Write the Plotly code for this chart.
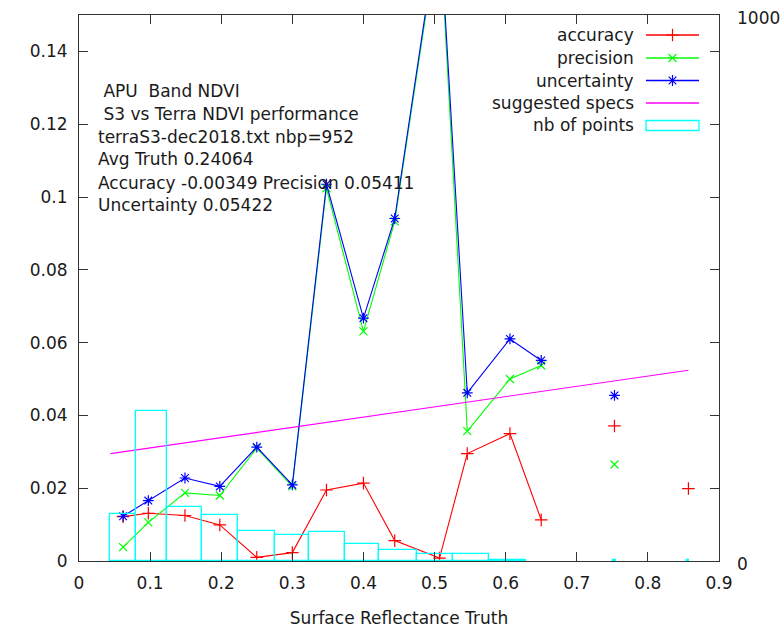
import plotly.graph_objects as go

# ---------------- data ----------------
truth_x = [0.062, 0.0975, 0.149, 0.198, 0.250, 0.300, 0.348, 0.400, 0.444,
           0.507, 0.546, 0.606, 0.650, 0.753, 0.857]
accuracy = [0.0122, 0.0131, 0.0125, 0.0099, 0.0010, 0.0023, 0.0195, 0.0214, 0.0056,
            0.0008, 0.0295, 0.0350, 0.0113, 0.0371, 0.0199]
precision = [0.0038, 0.0106, 0.0187, 0.0180, 0.0310, 0.0205, 0.1024, 0.0631, 0.0933,
             0.1750, 0.0357, 0.0500, 0.0537, 0.0265, None]
uncertainty = [0.0123, 0.0166, 0.0228, 0.0205, 0.0313, 0.0209, 0.1035, 0.0667, 0.0941,
               0.1765, 0.0462, 0.0610, 0.0551, 0.0455, None]
nb_points = [87, 275, 99, 85, 55, 48, 53, 31, 21, 12, 12, 2, None, 2, 2]
spec_x = [0.0443, 0.857]
spec_y = [0.0295, 0.0524]

stats_lines = ["\u00a0APU\u00a0\u00a0Band NDVI",
               "\u00a0S3 vs Terra NDVI performance",
               "terraS3-dec2018.txt nbp=952",
               "Avg Truth 0.24064",
               "Accuracy -0.00349 Precision 0.05411",
               "Uncertainty 0.05422"]
legend_names = ["accuracy", "precision", "uncertainty", "suggested specs", "nb of points"]
x_title = "Surface Reflectance Truth"
y_tickvals = [0, 0.02, 0.04, 0.06, 0.08, 0.1, 0.12, 0.14]
x_tickvals = [0, 0.1, 0.2, 0.3, 0.4, 0.5, 0.6, 0.7, 0.8, 0.9]
y2_tickvals = [0, 1000]

# ---------------- style ----------------
FONT = "DejaVu Sans"
FS = 17
TXT = "#1a1a1a"
AX = "#333333"
RED, GREEN, BLUE, MAG, CYAN = "#ff0000", "#00ff00", "#0000ff", "#ff00ff", "#00ffff"
N_CONN = 13  # points joined by lines; the rest are isolated
SYM = {"acc": ("cross-thin", 9), "prec": ("x-thin", 8), "unc": ("asterisk", 9)}

fig = go.Figure()

def add_series(vals, color, key):
    symbol, size = SYM[key]
    mk = dict(symbol=symbol, size=size, color=color, line=dict(color=color, width=1.2))
    fig.add_trace(go.Scatter(x=truth_x[:N_CONN], y=vals[:N_CONN], mode="lines+markers",
                             showlegend=False, line=dict(color=color, width=1.1), marker=mk))
    xs_i = [x for x, v in zip(truth_x[N_CONN:], vals[N_CONN:]) if v is not None]
    ys_i = [v for v in vals[N_CONN:] if v is not None]
    fig.add_trace(go.Scatter(x=xs_i, y=ys_i, mode="markers", showlegend=False, marker=mk))

add_series(accuracy, RED, "acc")
add_series(precision, GREEN, "prec")
add_series(uncertainty, BLUE, "unc")

fig.add_trace(go.Scatter(x=spec_x, y=spec_y, mode="lines", showlegend=False,
                         line=dict(color=MAG, width=1.1)))

# boxes span midpoint-to-midpoint between neighbours (connected part);
# isolated points get a hairline box
conn = truth_x[:N_CONN]
mids = [(a + b) / 2 for a, b in zip(conn[:-1], conn[1:])]
edges = [conn[0] - (mids[0] - conn[0])] + mids + [conn[-1] + (conn[-1] - mids[-1])]
offsets, widths = [], []
for i, x in enumerate(truth_x):
    if i < N_CONN:
        offsets.append(edges[i] - x)
        widths.append(edges[i + 1] - edges[i])
    else:
        offsets.append(-0.0015)
        widths.append(0.003)

fig.add_trace(go.Bar(x=truth_x, y=nb_points, width=widths, offset=offsets, yaxis="y2",
                     showlegend=False,
                     marker=dict(color="rgba(0,0,0,0)", line=dict(color=CYAN, width=1.3))))

# ---------------- manual gnuplot-like legend ----------------
W, H = 784, 631
L, R, T, B = 79, 65, 15, 70
PW, PH = W - L - R, H - T - B

def px(x):
    return (x - L) / PW

def py(y):
    return (T + PH - y) / PH

row_y = [35, 58, 80.5, 103, 125.5]
for name, yy in zip(legend_names, row_y):
    fig.add_annotation(x=px(636), y=py(yy), xref="paper", yref="paper",
                       text=name, showarrow=False, xanchor="right", yanchor="middle",
                       font=dict(family=FONT, size=FS, color=TXT))
for yy, col in zip(row_y[:4], [RED, GREEN, BLUE, MAG]):
    fig.add_shape(type="line", xref="paper", yref="paper",
                  x0=px(646), x1=px(699), y0=py(yy), y1=py(yy),
                  line=dict(color=col, width=1.3))
fig.add_shape(type="rect", xref="paper", yref="paper",
              x0=px(646), x1=px(699), y0=py(130.5), y1=py(120.5),
              line=dict(color=CYAN, width=1.3))
for yy, col, key in zip(row_y[:3], [RED, GREEN, BLUE], ["acc", "prec", "unc"]):
    symbol, size = SYM[key]
    fig.add_trace(go.Scatter(x=[px(672.5)], y=[py(yy)], xaxis="x3", yaxis="y3",
                             mode="markers", showlegend=False, hoverinfo="skip",
                             marker=dict(symbol=symbol, size=size, color=col,
                                         line=dict(color=col, width=1.2))))

# ---------------- stats text ----------------
stat_y = [91.5, 114, 136.5, 159.5, 182.5, 204.5]
for line, yy in zip(stats_lines, stat_y):
    fig.add_annotation(x=px(96), y=py(yy), xref="paper", yref="paper",
                       text=line, showarrow=False, xanchor="left", yanchor="middle",
                       font=dict(family=FONT, size=FS, color=TXT))

axis_common = dict(showgrid=False, zeroline=False, showline=True, linecolor=AX,
                   linewidth=1, ticks="inside", ticklen=9, tickwidth=1, tickcolor=AX,
                   mirror="ticks", automargin=False,
                   tickfont=dict(family=FONT, size=FS, color=TXT))

fig.update_layout(
    width=W, height=H,
    margin=dict(l=L, r=R, t=T, b=B, autoexpand=False),
    paper_bgcolor="white", plot_bgcolor="white",
    showlegend=False, bargap=0,
    xaxis=dict(range=[0, 0.9], tickvals=x_tickvals,
               ticktext=[f"{v:g}" for v in x_tickvals], ticklabelstandoff=7,
               title=dict(text=x_title, font=dict(family=FONT, size=FS, color=TXT),
                          standoff=19),
               **axis_common),
    yaxis=dict(range=[0, 0.15], tickvals=y_tickvals,
               ticktext=[f"{v:g}" for v in y_tickvals], ticklabelstandoff=7,
               **axis_common),
    yaxis2=dict(range=[0, 1000], overlaying="y", side="right", tickvals=y2_tickvals,
                showgrid=False, zeroline=False, showline=False, ticks="",
                automargin=False, ticklabelstandoff=17, ticklabelshift=3,
                tickfont=dict(family=FONT, size=FS, color=TXT)),
    xaxis3=dict(range=[0, 1], overlaying="x", visible=False, anchor="y3"),
    yaxis3=dict(range=[0, 1], overlaying="y", visible=False, anchor="x3"),
)

fig.write_html("out.html")
